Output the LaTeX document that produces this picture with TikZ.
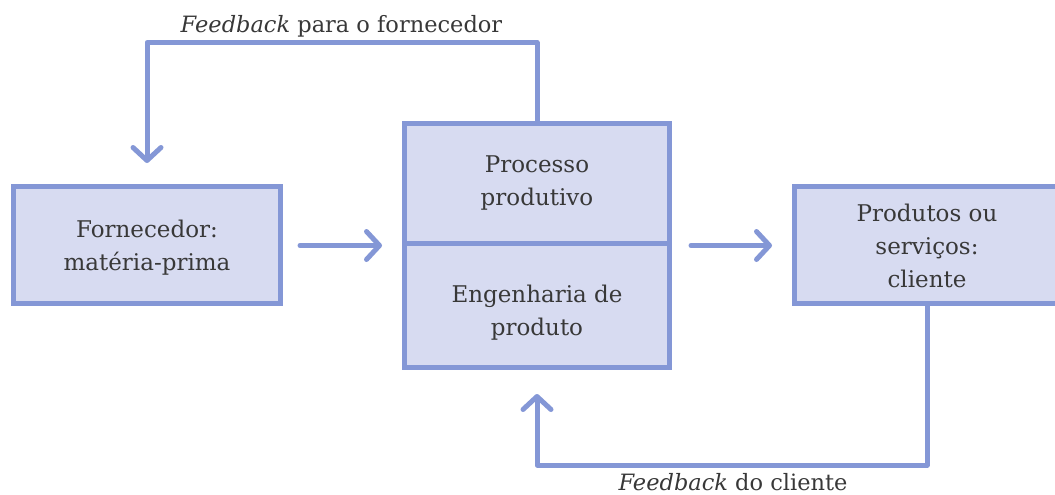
\documentclass[tikz,border=0pt]{standalone}
\usepackage{fontspec}
\setmainfont{DejaVu Serif}
\usetikzlibrary{arrows.meta,calc}
\definecolor{edgeblue}{HTML}{8497D6}
\definecolor{fillblue}{HTML}{D7DBF1}
\definecolor{txt}{HTML}{383838}
\tikzset{
  box/.style={draw=edgeblue, fill=fillblue, line width=5pt, line join=miter,
    align=center, inner sep=0pt, text=txt,
    font=\fontsize{23}{33}\selectfont},
  arr/.style={draw=edgeblue, line width=5pt, line cap=round, line join=round,
    -{Straight Barb[length=13pt,width=28pt,line cap=round,line join=round]}},
  lbl/.style={text=txt, inner sep=0pt, font=\fontsize{22.5}{26}\selectfont}
}
\begin{document}
\begin{tikzpicture}[x=1pt,y=-1pt]
\useasboundingbox (0,0) rectangle (1055,495);
\clip (0,0) rectangle (1055,495);
\node[box, minimum width=267pt, minimum height=117pt] (forn) at (147,245) {\rule{0pt}{23.5pt}Fornecedor:\\matéria-prima};
\node[box, minimum width=265pt, minimum height=120pt] (top) at (537,183) {Processo\\produtivo};
\node[box, minimum width=265pt, minimum height=124pt] (bot) at (537,305.5) {\rule{0pt}{31pt}Engenharia de\\produto};
\node[box, minimum width=265pt, minimum height=117pt] (prod) at (927,245) {\rule{0pt}{20pt}Produtos ou\\serviços:\\cliente};
\draw[arr, shorten <=17pt, shorten >=20pt] (forn.east |- top.south) -- (top.south west);
\draw[arr, shorten <=19pt, shorten >=20pt] (top.south east) -- (top.south east -| prod.west);
\draw[arr] (top.north) -- ++(0,-78) -| ([yshift=21pt]forn.north);
\draw[arr] (prod.south) -- ++(0,159) -| ([yshift=-24pt]bot.south);
\node[lbl, anchor=base] (lfb1) at (341.5,33) {\textit{Feedback} para o fornecedor};
\node[lbl, anchor=base] (lfb2) at (733,490) {\textit{Feedback} do cliente};
\end{tikzpicture}
\end{document}
